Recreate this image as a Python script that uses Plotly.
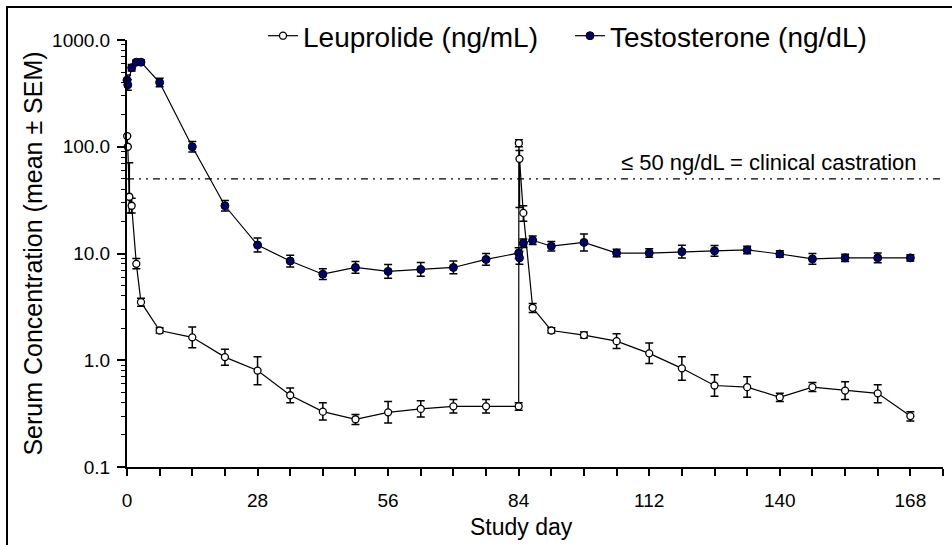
import plotly.graph_objects as go

# ---- data ----
leu_days = [0.04, 0.17, 0.5, 1, 2, 3, 7, 14, 21, 28, 35, 42, 49, 56, 63, 70, 77, 84,
            84.04, 84.17, 85, 87, 91, 98, 105, 112, 119, 126, 133, 140, 147, 154, 161, 168]
leu_vals = [126, 100, 34, 28, 8.0, 3.5, 1.9, 1.64, 1.07, 0.80, 0.47, 0.33, 0.28, 0.325, 0.35, 0.37, 0.37, 0.37,
            108, 77, 24, 3.1, 1.9, 1.72, 1.51, 1.16, 0.84, 0.58, 0.56, 0.45, 0.56, 0.52, 0.49, 0.30]
leu_err_up = [0, 0, 37, 5, 1.0, 0.3, 0.12, 0.41, 0.20, 0.28, 0.08, 0.07, 0.03, 0.085, 0.067, 0.06, 0.06, 0.03,
              8, 15, 4, 0.3, 0.12, 0.12, 0.26, 0.29, 0.24, 0.15, 0.14, 0.04, 0.06, 0.11, 0.10, 0.03]
leu_err_dn = [0, 0, 10, 4, 0.8, 0.3, 0.1, 0.33, 0.17, 0.21, 0.07, 0.055, 0.03, 0.067, 0.056, 0.05, 0.05, 0.03,
              8, 50, 4, 0.3, 0.1, 0.1, 0.22, 0.23, 0.19, 0.12, 0.11, 0.04, 0.05, 0.09, 0.09, 0.03]

tes_days = [0, 0.17, 1, 2, 3, 7, 14, 21, 28, 35, 42, 49, 56, 63, 70, 77, 84,
            84.17, 85, 87, 91, 98, 105, 112, 119, 126, 133, 140, 147, 154, 161, 168]
tes_vals = [420, 380, 550, 620, 620, 400, 100, 28, 12, 8.5, 6.4, 7.4, 6.8, 7.1, 7.4, 8.8, 10.1,
            9.1, 12.5, 13.3, 11.7, 12.7, 10.1, 10.1, 10.4, 10.6, 10.8, 9.9, 8.9, 9.1, 9.1, 9.1]
tes_err_log = [0.05, 0.05, 0.03, 0.02, 0.02, 0.04, 0.05, 0.05, 0.065, 0.055, 0.05, 0.055, 0.065, 0.065, 0.06, 0.055, 0.05,
               0.06, 0.04, 0.04, 0.045, 0.08, 0.035, 0.04, 0.06, 0.05, 0.035, 0.03, 0.05, 0.035, 0.045, 0.03]

castration_level = 50
x_tick_vals = [0, 28, 56, 84, 112, 140, 168]
y_tick_vals = [0.1, 1, 10, 100, 1000]
y_tick_text = ["0.1", "1.0", "10.0", "100.0", "1000.0"]

tes_up = [v * (10 ** e - 1) for v, e in zip(tes_vals, tes_err_log)]
tes_dn = [v * (1 - 10 ** -e) for v, e in zip(tes_vals, tes_err_log)]

FONT = "Liberation Sans, Arial, sans-serif"
NAVY = "#000070"

fig = go.Figure()
fig.add_trace(go.Scatter(
    x=leu_days, y=leu_vals, mode="lines+markers", name="Leuprolide (ng/mL)",
    line=dict(color="black", width=1.2),
    marker=dict(symbol="circle", size=7, color="white", line=dict(color="black", width=1.3)),
    error_y=dict(type="data", symmetric=False, array=leu_err_up, arrayminus=leu_err_dn,
                 color="black", thickness=1.5, width=4),
    cliponaxis=False,
))
fig.add_trace(go.Scatter(
    x=tes_days, y=tes_vals, mode="lines+markers", name="Testosterone (ng/dL)",
    line=dict(color="black", width=1.2),
    marker=dict(symbol="circle", size=8, color=NAVY, line=dict(color="black", width=1)),
    error_y=dict(type="data", symmetric=False, array=tes_up, arrayminus=tes_dn,
                 color="black", thickness=1.5, width=4),
    cliponaxis=False,
))

# castration threshold line
fig.add_shape(type="line", xref="x", yref="y", x0=-3, x1=175, y0=castration_level, y1=castration_level,
              line=dict(color="black", width=1.2, dash="2px,5px,2px,5px,7px,5px"), layer="below")
fig.add_annotation(x=105.6, y=1.85, xref="x", yref="y", xanchor="left", yanchor="middle",
                   text="≤ 50 ng/dL = clinical castration", showarrow=False,
                   font=dict(family=FONT, size=22, color="black"))

# outer frame (top and left visible)
L, R, T, B = 127, 943, 40, 467
pw, ph = R - L, B - T
fig.add_shape(type="rect", xref="paper", yref="paper",
              x0=(7 - L) / pw, x1=(960 - L) / pw, y0=(B - 560) / ph, y1=(B - 7) / ph,
              line=dict(color="black", width=2))

# x axis title as annotation so it sits where the reference has it
fig.add_annotation(x=0.483, y=(B - 527) / ph, xref="paper", yref="paper", xanchor="center", yanchor="middle",
                   text="Study day", showarrow=False, font=dict(family=FONT, size=23, color="black"))

fig.update_layout(
    width=952, height=545,
    margin=dict(l=L, r=952 - R, t=T, b=545 - B, autoexpand=False),
    paper_bgcolor="white", plot_bgcolor="white",
    font=dict(family=FONT, color="black"),
    showlegend=True,
    legend=dict(orientation="h", x=(263 - L) / pw, y=(B - 36) / ph, xanchor="left", yanchor="middle",
                font=dict(family=FONT, size=28, color="black"), bgcolor="rgba(0,0,0,0)",
                itemwidth=30, tracegroupgap=0, entrywidth=262, entrywidthmode="pixels"),
    xaxis=dict(range=[0, 175], tickmode="array", tickvals=x_tick_vals,
               ticks="outside", ticklen=7, tickwidth=1.5, tickcolor="black",
               minor=dict(ticks="outside", ticklen=7, tickwidth=1.5, tickcolor="black", dtick=7, tick0=0),
               showline=True, linecolor="black", linewidth=2, showgrid=False, zeroline=False,
               tickfont=dict(family=FONT, size=19), ticklabelstandoff=8),
    yaxis=dict(type="log", range=[-1, 3], tickmode="array", tickvals=y_tick_vals, ticktext=y_tick_text,
               ticks="outside", ticklen=8, tickwidth=1.5, tickcolor="black",
               minor=dict(ticks="outside", ticklen=4, tickwidth=1.2, tickcolor="black",
                          tickvals=[m * 10 ** d for d in range(-1, 3) for m in range(2, 10)]),
               showline=True, linecolor="black", linewidth=2, showgrid=False, zeroline=False,
               tickfont=dict(family=FONT, size=19), ticklabelstandoff=3,
               title=dict(text="Serum Concentration (mean ± SEM)", font=dict(family=FONT, size=25), standoff=2)),
)

fig.write_html("out.html", config={"displayModeBar": False},
               post_script="document.body.style.margin='0';")
